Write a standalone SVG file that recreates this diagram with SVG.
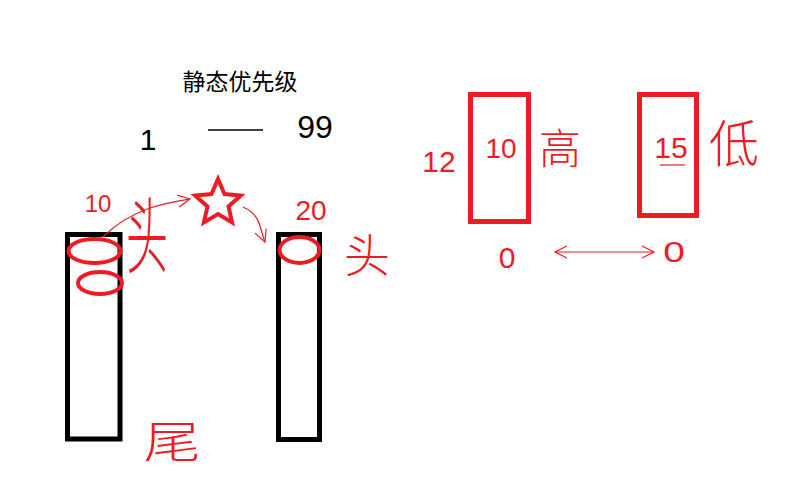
<svg xmlns="http://www.w3.org/2000/svg" width="800" height="480" viewBox="0 0 800 480">
<style>
.blk{fill:#fff;stroke:#000;stroke-width:5}
.rbox{fill:#fff;stroke:#ED1C24;stroke-width:5}
.ell{fill:none;stroke:#ED1C24;stroke-width:4}
.hand{font-family:"Liberation Sans","Noto Sans CJK SC",sans-serif;fill:#ED1C24;text-anchor:middle}
.cjk{font-family:"Noto Sans CJK SC",sans-serif;fill:#ED1C24;text-anchor:middle;font-weight:300}
.conn{fill:none;stroke:#ED1C24;stroke-width:1.2}
</style>
<defs>
<marker id="open" viewBox="0 0 14 14" refX="13" refY="7" markerWidth="14" markerHeight="14" markerUnits="userSpaceOnUse" orient="auto-start-reverse">
<path d="M1,1 L13,7 L1,13" fill="none" stroke="#ED1C24" stroke-width="1.2"/>
</marker>
</defs>
<rect width="800" height="480" fill="#fff"/>
<text x="240" y="90" font-family="Noto Sans CJK SC,sans-serif" font-size="23" text-anchor="middle" fill="#000">静态优先级</text>
<g id="range">
<text x="148" y="150" font-family="Liberation Sans,sans-serif" font-size="30" fill="#000" text-anchor="middle">1</text>
<line x1="208" y1="130" x2="263" y2="130" stroke="#000" stroke-width="1.3"/>
<text x="315" y="138" font-family="Liberation Sans,sans-serif" font-size="32" fill="#000" text-anchor="middle">99</text>
</g>
<g id="queue-left">
<rect class="blk" x="67.5" y="234.5" width="52.5" height="204.5"/>
<ellipse class="ell" cx="94.5" cy="251" rx="26" ry="12"/>
<ellipse class="ell" cx="100" cy="283" rx="22" ry="11"/>
<text class="hand" x="98" y="212" font-size="24">10</text>
<text class="cjk" x="147" y="0" font-size="42" transform="translate(0 267) scale(1 2)">头</text>
<text class="cjk" x="0" y="0" font-size="44" transform="translate(172 458) scale(1.3 1)">尾</text>
</g>
<g id="star">
<polygon points="218,179 224.5,194.1 240.8,195.6 228.5,206.4 232.1,222.4 218,214 203.9,222.4 207.5,206.4 195.2,195.6 211.5,194.1" fill="#fff" stroke="#ED1C24" stroke-width="4" stroke-linejoin="miter"/>
</g>
<g id="queue-right">
<rect class="blk" x="278.5" y="234.5" width="41" height="205"/>
<ellipse class="ell" cx="299.5" cy="250" rx="20" ry="13"/>
<text class="hand" x="311" y="220" font-size="28">20</text>
<text class="cjk" x="367" y="272" font-size="46">头</text>
</g>
<g id="box-high">
<rect class="rbox" x="470.5" y="94.5" width="58" height="127"/>
<text class="hand" x="439" y="172" font-size="30">12</text>
<text class="hand" x="501" y="158" font-size="28">10</text>
<text class="cjk" x="560" y="164" font-size="42">高</text>
<text class="hand" x="507" y="268" font-size="30">0</text>
</g>
<g id="box-low">
<rect class="rbox" x="639.5" y="94.5" width="57" height="121"/>
<text class="hand" x="671" y="158" font-size="30">15</text>
<line x1="660" y1="165" x2="685" y2="165" stroke="#ED1C24" stroke-width="1.2"/>
<text class="cjk" x="734" y="162" font-size="50">低</text>
<text class="hand" x="0" y="0" font-size="30" transform="translate(674 262) scale(1.3 1)">0</text>
</g>
<g id="connectors">
<path class="conn" d="M103,237 C115,225 130,215 150,208 C165,203 178,201 190,199" marker-end="url(#open)"/>
<path class="conn" d="M243,207 C252,211 258,217 260,226 C262,232 263,237 265,242" marker-end="url(#open)"/>
<line class="conn" x1="555" y1="252" x2="654" y2="252" marker-start="url(#open)" marker-end="url(#open)"/>
</g>
</svg>
